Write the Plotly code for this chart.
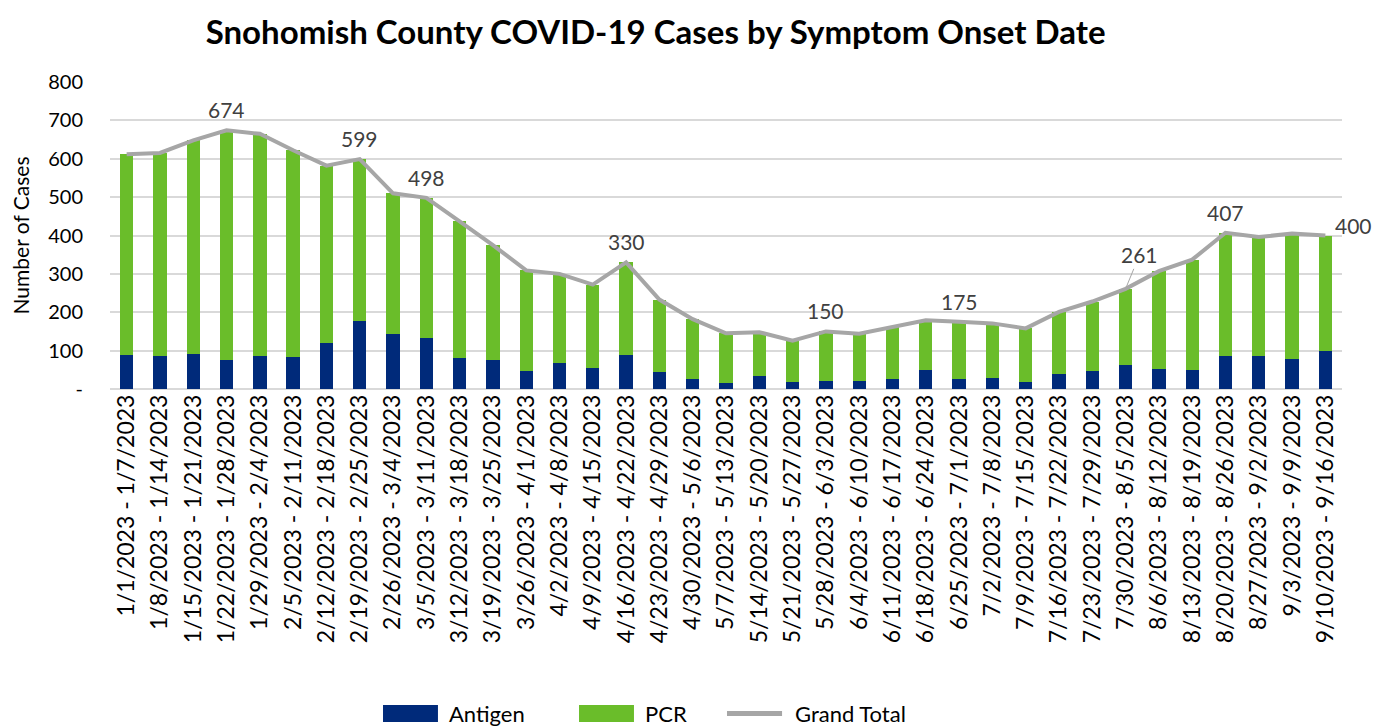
import plotly.graph_objects as go

weeks = [
    "1/1/2023 - 1/7/2023", "1/8/2023 - 1/14/2023", "1/15/2023 - 1/21/2023",
    "1/22/2023 - 1/28/2023", "1/29/2023 - 2/4/2023", "2/5/2023 - 2/11/2023",
    "2/12/2023 - 2/18/2023", "2/19/2023 - 2/25/2023", "2/26/2023 - 3/4/2023",
    "3/5/2023 - 3/11/2023", "3/12/2023 - 3/18/2023", "3/19/2023 - 3/25/2023",
    "3/26/2023 - 4/1/2023", "4/2/2023 - 4/8/2023", "4/9/2023 - 4/15/2023",
    "4/16/2023 - 4/22/2023", "4/23/2023 - 4/29/2023", "4/30/2023 - 5/6/2023",
    "5/7/2023 - 5/13/2023", "5/14/2023 - 5/20/2023", "5/21/2023 - 5/27/2023",
    "5/28/2023 - 6/3/2023", "6/4/2023 - 6/10/2023", "6/11/2023 - 6/17/2023",
    "6/18/2023 - 6/24/2023", "6/25/2023 - 7/1/2023", "7/2/2023 - 7/8/2023",
    "7/9/2023 - 7/15/2023", "7/16/2023 - 7/22/2023", "7/23/2023 - 7/29/2023",
    "7/30/2023 - 8/5/2023", "8/6/2023 - 8/12/2023", "8/13/2023 - 8/19/2023",
    "8/20/2023 - 8/26/2023", "8/27/2023 - 9/2/2023", "9/3/2023 - 9/9/2023",
    "9/10/2023 - 9/16/2023",
]

antigen = [88, 85, 90, 76, 87, 84, 120, 178, 143, 132, 81, 75, 48, 68, 55, 88,
           44, 25, 16, 33, 18, 20, 22, 27, 50, 25, 28, 17, 38, 47, 63, 52, 50,
           85, 85, 78, 99]

grand_total = [612, 615, 648, 674, 665, 622, 582, 599, 510, 498, 437, 375, 309,
               300, 272, 330, 233, 182, 145, 148, 126, 150, 144, 161, 179, 175,
               171, 158, 201, 228, 261, 307, 337, 407, 396, 405, 400]

pcr = [t - a for t, a in zip(grand_total, antigen)]

# weeks whose total gets a label on the chart
labelled = [3, 7, 9, 15, 21, 25, 30, 33, 36]

NAVY = "#002A7A"
GREEN = "#6ABD2A"
GREY = "#A6A6A6"
FONT = "Lato"

fig = go.Figure()

fig.add_trace(go.Bar(x=weeks, y=antigen, name="Antigen", marker_color=NAVY,
                     marker_line_width=0))
fig.add_trace(go.Bar(x=weeks, y=pcr, name="PCR", marker_color=GREEN,
                     marker_line_width=0))
fig.add_trace(go.Scatter(x=weeks, y=grand_total, name="Grand Total", mode="lines",
                         line=dict(color=GREY, width=4)))

lab_font = dict(family=FONT, size=21, color="#404040")
annotations = []
for i in labelled:
    if i == 30:
        annotations.append(dict(x=weeks[i], y=grand_total[i], text=str(grand_total[i]),
                                showarrow=True, arrowhead=0, arrowwidth=1,
                                arrowcolor=GREY, ax=14, ay=-34, font=lab_font))
    elif i == 36:
        annotations.append(dict(x=weeks[i], y=grand_total[i], text=str(grand_total[i]),
                                showarrow=False, xanchor="left", xshift=8, yshift=10,
                                font=lab_font))
    else:
        annotations.append(dict(x=weeks[i], y=grand_total[i], text=str(grand_total[i]),
                                showarrow=False, yanchor="bottom", yshift=6,
                                font=lab_font))

# hand-drawn legend below the tick labels (wide swatches like the original)
leg_font = dict(family=FONT, size=22, color="#000000")
shapes = [
    dict(type="rect", xref="paper", yref="paper", x0=0.2216, x1=0.2662,
         y0=-1.085, y1=-1.029, fillcolor=NAVY, line_width=0),
    dict(type="rect", xref="paper", yref="paper", x0=0.3807, x1=0.4253,
         y0=-1.085, y1=-1.029, fillcolor=GREEN, line_width=0),
    dict(type="line", xref="paper", yref="paper", x0=0.5008, x1=0.5455,
         y0=-1.057, y1=-1.057, line=dict(color=GREY, width=5)),
]
for name, xpos in [("Antigen", 0.2735), ("PCR", 0.4326), ("Grand Total", 0.5544)]:
    annotations.append(dict(xref="paper", yref="paper", x=xpos, y=-1.057, text=name,
                            showarrow=False, xanchor="left", yanchor="middle",
                            font=leg_font))

# the page body adds an 8px offset, so the figure is 8px smaller each way
fig.update_layout(
    barmode="stack",
    bargap=0.6,
    width=1378, height=720,
    margin=dict(l=102, r=44, t=74, b=339, autoexpand=False),
    paper_bgcolor="white", plot_bgcolor="white",
    font=dict(family=FONT, color="#000000"),
    title=dict(text="<b>Snohomish County COVID-19 Cases by Symptom Onset Date</b>",
               x=0.470, xanchor="center", y=0.966, yanchor="middle",
               font=dict(size=33, color="#000000")),
    xaxis=dict(tickangle=-90, tickfont=dict(size=23), showgrid=False,
               showline=False, ticks="", range=[-0.5, len(weeks) - 0.5]),
    yaxis=dict(range=[0, 800], tickvals=[0, 100, 200, 300, 400, 500, 600, 700, 800],
               ticktext=["-", "100", "200", "300", "400", "500", "600", "700", "800"],
               tickfont=dict(size=20), gridcolor="#D9D9D9", gridwidth=1.5,
               zeroline=True, zerolinecolor="#D9D9D9", zerolinewidth=1.5,
               ticklabelstandoff=26,
               title=dict(text="Number of Cases", font=dict(size=21), standoff=18)),
    showlegend=False,
    shapes=shapes,
    annotations=annotations,
)

fig.write_html("out.html")
